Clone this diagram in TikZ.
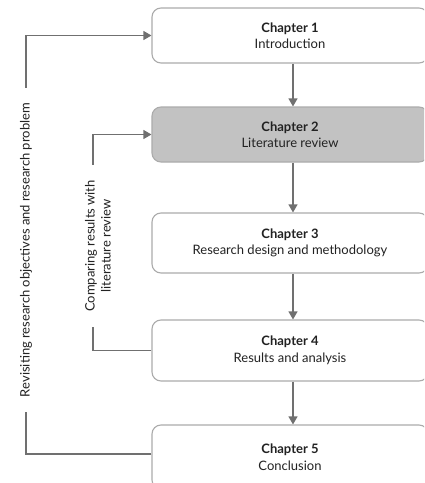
\documentclass[tikz,border=0pt]{standalone}
\usepackage{fontspec}
\setmainfont{Lato}
\usetikzlibrary{arrows.meta,positioning}
\definecolor{linegray}{HTML}{707070}
\definecolor{boxline}{HTML}{ABABAB}
\definecolor{boxfill}{HTML}{C2C2C2}
\definecolor{txt}{HTML}{222222}
\tikzset{
  chapter/.style={draw=boxline, line width=1.1pt, rounded corners=9pt, fill=white,
    minimum width=276pt, align=center, text=txt, font=\fontsize{13}{16.5}\selectfont, inner sep=0pt},
  tip/.style={-{Triangle[length=8pt,width=9pt]}},
  flow/.style={draw=linegray, line width=1.1pt, tip},
  feedback/.style={draw=linegray, line width=1.1pt},
  sidelabel/.style={rotate=90, fill=white, text=txt, align=center,
    font=\fontsize{13}{16}\selectfont, inner ysep=1pt}
}
\begin{document}
\begin{tikzpicture}[x=1pt,y=-1pt]
  \useasboundingbox (0,0) rectangle (424,483);
  \begin{scope}
  \clip (0,0) rectangle (424,483);
  % chapter boxes
  \node[chapter, minimum height=55pt] (c1) at (290,35.5) {\textbf{Chapter 1}\\Introduction};
  \node[chapter, minimum height=55pt, fill=boxfill] (c2) at (290,134.5) {\textbf{Chapter 2}\\Literature review};
  \node[chapter, minimum height=60pt] (c3) at (290,243) {\textbf{Chapter 3}\\Research design and methodology};
  \node[chapter, minimum height=61pt] (c4) at (290,350.5) {\textbf{Chapter 4}\\Results and analysis};
  \node[chapter, minimum height=64pt] (c5) at (290,457) {\textbf{Chapter 5}\\Conclusion};
  % main sequence
  \draw[flow] ([xshift=3pt]c1.south) -- ([xshift=3pt]c2.north);
  \draw[flow] ([xshift=3pt]c2.south) -- ([xshift=3pt]c3.north);
  \draw[flow] ([xshift=3pt]c3.south) -- ([xshift=3pt]c4.north);
  \draw[flow] ([xshift=3pt]c4.south) -- ([xshift=3pt]c5.north);
  % feedback loops
  \coordinate (outer) at (26,251);
  \coordinate (inner) at (93,242);
  \draw[feedback, tip] ([yshift=3pt]c5.west) -| (outer) |- (c1.west);
  \draw[feedback, tip] (c4.west) -| (inner) |- (c2.west);
  \node[sidelabel, inner xsep=15pt] (lo) at (26,250) {Revisiting research objectives and research problem};
  \node[sidelabel, inner xsep=15pt] (li) at (98,246) {Comparing results with\\literature review};
  \end{scope}
\end{tikzpicture}
\end{document}
